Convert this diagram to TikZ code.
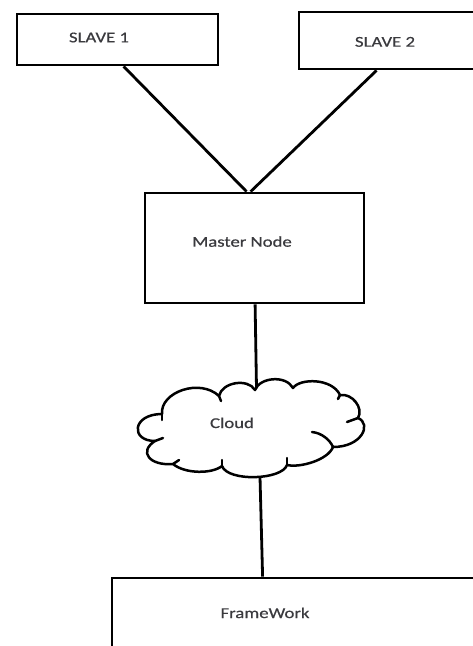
\documentclass[tikz,border=0pt]{standalone}
\usepackage{fontspec}
\setmainfont{Carlito}[FakeStretch=1.25,FakeBold=0.5]
\usetikzlibrary{calc}
\definecolor{txt}{RGB}{58,58,62}
\begin{document}
\begin{tikzpicture}[x=1pt,y=-1pt,
  boxnode/.style={draw=black,line width=2.8pt,inner sep=0pt},
  lbl/.style={font=\fontsize{15}{18}\selectfont,text=txt,inner sep=0pt,anchor=base},
  wire/.style={draw=black,line width=2.8pt},
  cloudline/.style={draw=black,line width=2.5pt,line cap=round,line join=round}]
\clip (0,0) rectangle (473,646);
\fill[white] (0,0) rectangle (473,646);
% boxes
\node[boxnode,minimum width=201pt,minimum height=51pt] (s1) at (117.5,39.5) {};
\node[boxnode,minimum width=191pt,minimum height=57pt] (s2) at (394.5,40.5) {};
\node[boxnode,minimum width=219pt,minimum height=110pt] (m) at (254.5,248) {};
\node[boxnode,minimum width=378pt,minimum height=69pt] (fw) at (301,612.5) {};
% labels
\node[lbl] (t1) at (99,42.3) {SLAVE 1};
\node[lbl] (t2) at (385,46.7) {SLAVE 2};
\node[lbl] (tm) at (242,246.7) {Master Node};
\node[lbl] (tc) at (232,428) {Cloud};
\node[lbl] (tf) at (265,618) {FrameWork};
% cloud
\coordinate (cloudtop) at (256.5,388);
\coordinate (cloudbot) at (260,477);
\draw[cloudline]
  (162,414) .. controls (160,392) and (200,378) .. (219,396)
  .. controls (222,382) and (248,378) .. (255,390)
  .. controls (260,377) and (286,375) .. (293,388)
  .. controls (300,378) and (332,378) .. (340,395)
  .. controls (352,393) and (364,408) .. (358,418)
  .. controls (372,424) and (362,447) .. (333,447)
  .. controls (328,460) and (300,468) .. (287,465)
  .. controls (282,480) and (228,482) .. (222,466)
  .. controls (212,474) and (185,474) .. (173,464)
  .. controls (150,466) and (138,452) .. (155,441)
  .. controls (130,441) and (132,414) .. (162,414);
% cloud inner strokes
\draw[cloudline] (312,432) .. controls (322,433) and (330,440) .. (333,447);
\draw[cloudline] (219,396) -- (221,401);
\draw[cloudline] (340,395) -- (338,399);
\draw[cloudline] (358,418) -- (347,422);
\draw[cloudline] (287,465) -- (287,458);
\draw[cloudline] (222,466) -- (222,460);
\draw[cloudline] (173,464) -- (179,460);
\draw[cloudline] (155,441) -- (163,438);
\draw[cloudline] (162,414) -- (162,420);
% connectors
\draw[wire] ($(s1.south west)+(108,0)$) -- ($(m.north west)+(103,0)$);
\draw[wire] ($(s2.south west)+(79,0)$) -- ($(m.north west)+(107,0)$);
\draw[wire] ($(m.south west)+(111.5,0)$) -- (cloudtop);
\draw[wire] (cloudbot) -- ($(fw.north west)+(152,0)$);
\end{tikzpicture}
\end{document}
